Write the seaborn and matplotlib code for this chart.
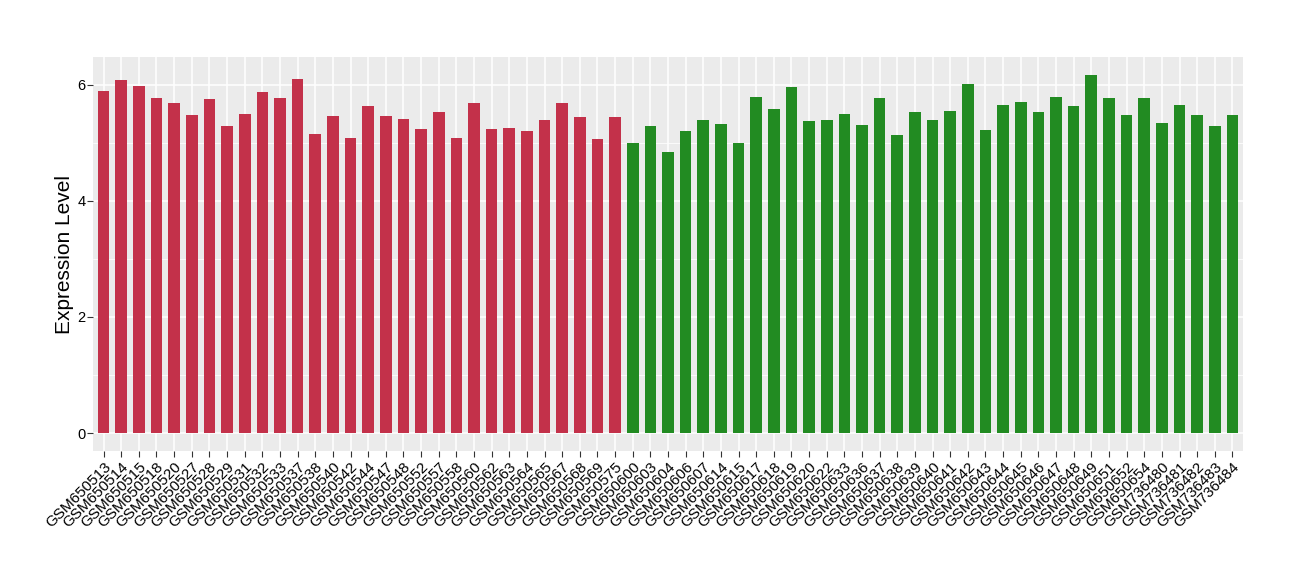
import numpy as np
import pandas as pd
import matplotlib
matplotlib.use("Agg")
import matplotlib.pyplot as plt
import seaborn as sns
from matplotlib.ticker import MultipleLocator

# datos
muestras_a = ["GSM650513", "GSM650514", "GSM650515", "GSM650518", "GSM650520", "GSM650527",
              "GSM650528", "GSM650529", "GSM650531", "GSM650532", "GSM650533", "GSM650537",
              "GSM650538", "GSM650540", "GSM650542", "GSM650544", "GSM650547", "GSM650548",
              "GSM650552", "GSM650557", "GSM650558", "GSM650560", "GSM650562", "GSM650563",
              "GSM650564", "GSM650565", "GSM650567", "GSM650568", "GSM650569", "GSM650575"]
valores_a = [5.90, 6.09, 5.98, 5.78, 5.69, 5.48, 5.76, 5.29, 5.50, 5.88,
             5.78, 6.10, 5.16, 5.47, 5.09, 5.64, 5.47, 5.41, 5.24, 5.53,
             5.09, 5.69, 5.24, 5.26, 5.21, 5.40, 5.69, 5.45, 5.07, 5.45]

muestras_b = ["GSM650600", "GSM650603", "GSM650604", "GSM650606", "GSM650607", "GSM650614",
              "GSM650615", "GSM650617", "GSM650618", "GSM650619", "GSM650620", "GSM650622",
              "GSM650633", "GSM650636", "GSM650637", "GSM650638", "GSM650639", "GSM650640",
              "GSM650641", "GSM650642", "GSM650643", "GSM650644", "GSM650645", "GSM650646",
              "GSM650647", "GSM650648", "GSM650649", "GSM650651", "GSM650652", "GSM650654",
              "GSM736480", "GSM736481", "GSM736482", "GSM736483", "GSM736484"]
valores_b = [5.00, 5.29, 4.85, 5.21, 5.40, 5.33, 5.00, 5.79, 5.59, 5.97,
             5.38, 5.40, 5.50, 5.31, 5.78, 5.14, 5.53, 5.40, 5.55, 6.02,
             5.22, 5.66, 5.71, 5.53, 5.79, 5.64, 6.17, 5.78, 5.48, 5.78,
             5.35, 5.66, 5.48, 5.29, 5.48]

colores = {"A": "#C3314A", "B": "#228B22"}

df = pd.DataFrame({
    "muestra": muestras_a + muestras_b,
    "valor": valores_a + valores_b,
    "grupo": ["A"] * len(muestras_a) + ["B"] * len(muestras_b),
})

sns.set_theme(style="darkgrid", rc={"axes.facecolor": "#EBEBEB", "grid.color": "white"})
plt.rcParams["font.family"] = ["Liberation Sans", "DejaVu Sans"]

fig = plt.figure(figsize=(13, 5.8), dpi=100)
ax = fig.add_axes([93 / 1300, 1 - 451 / 580, 1150 / 1300, 394 / 580])

sns.barplot(data=df, x="muestra", y="valor", hue="grupo", palette=colores,
            dodge=False, width=0.66, legend=False, ax=ax, saturation=1,
            linewidth=0, edgecolor="none")

n = len(df)
ax.set_xlim(-0.6, n - 1 + 0.6)
ax.set_ylim(-0.31, 6.48)
ax.yaxis.set_major_locator(MultipleLocator(2))
ax.yaxis.set_minor_locator(MultipleLocator(1))
ax.grid(which="major", color="white", linewidth=1.1)
ax.grid(which="minor", axis="y", color="white", linewidth=0.55)
ax.set_axisbelow(True)
for s in ax.spines.values():
    s.set_visible(False)

ax.set_xlabel("")
ax.set_ylabel("Expression Level", fontsize=15, color="black", labelpad=2)
ax.tick_params(axis="both", which="major", length=4, width=0.8, color="#333333",
               labelcolor="black", bottom=True, left=True, pad=2)
ax.tick_params(axis="x", labelsize=11)
ax.tick_params(axis="y", labelsize=10.5, pad=1.5)
ax.tick_params(axis="y", which="minor", length=0)
plt.setp(ax.get_xticklabels(), rotation=45, ha="right", rotation_mode="anchor")

fig.savefig("out.png", dpi=100)
